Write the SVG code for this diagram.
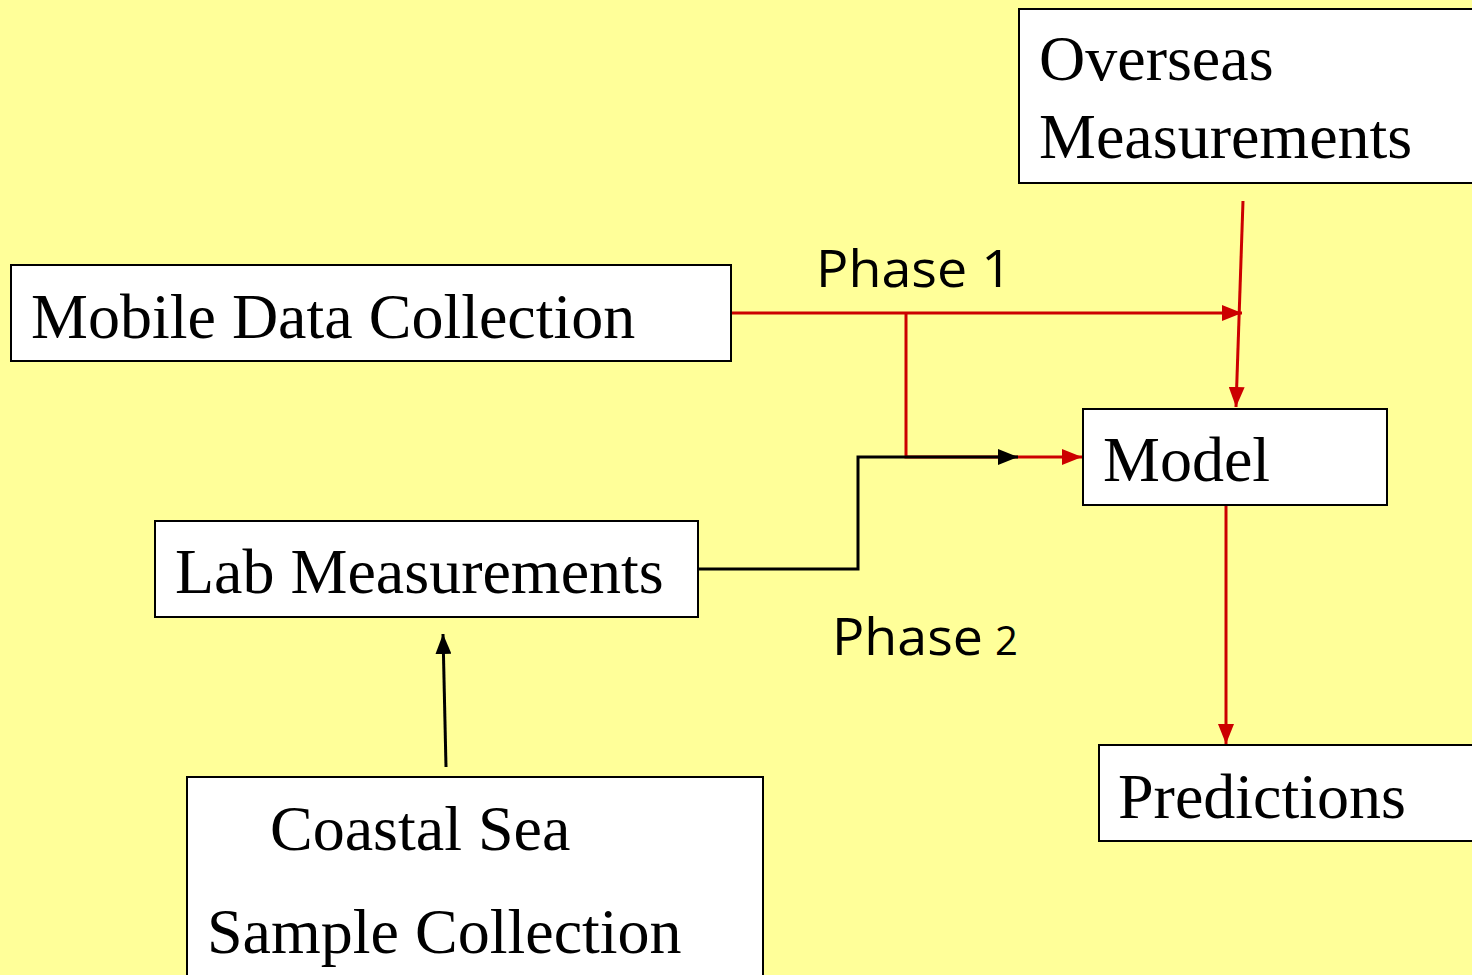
<svg xmlns="http://www.w3.org/2000/svg" width="1472" height="975" viewBox="0 0 1472 975">
<style>
.box{fill:#fff;stroke:#000;stroke-width:2}
.t{font-family:"Liberation Serif","Times New Roman",serif;font-size:64px;fill:#000}
.p{font-family:"Open Sans","Liberation Sans",sans-serif;font-size:52px;fill:#000}
.r{stroke:#CC0000;stroke-width:3;fill:none}
.k{stroke:#000;stroke-width:3;fill:none}
</style>
<defs>
<marker id="ar" markerUnits="userSpaceOnUse" markerWidth="22" markerHeight="16" refX="20" refY="8" orient="auto"><path d="M0,0 L20,8 L0,16 Z" fill="#CC0000"/></marker>
<marker id="ak" markerUnits="userSpaceOnUse" markerWidth="22" markerHeight="16" refX="20" refY="8" orient="auto"><path d="M0,0 L20,8 L0,16 Z" fill="#000"/></marker>
</defs>
<rect width="1472" height="975" fill="#FFFF99"/>
<g id="connectors">
<path class="r" d="M731,313 H1242" marker-end="url(#ar)"/>
<path class="r" d="M1243,201 L1236,407" marker-end="url(#ar)"/>
<path class="r" d="M906,313 V457 H1018"/>
<path class="k" d="M698,569 H858 V457 H1018" marker-end="url(#ak)"/>
<path class="r" d="M1018,457 H1082" marker-end="url(#ar)"/>
<path class="r" d="M1226,505 V744" marker-end="url(#ar)"/>
<path class="k" d="M446,767 L443,634" marker-end="url(#ak)"/>
</g>
<g id="overseas"><rect class="box" x="1019" y="9" width="470" height="174"/><text class="t" x="1039" y="80">Overseas</text><text class="t" x="1039" y="158">Measurements</text></g>
<g id="mobile"><rect class="box" x="11" y="265" width="720" height="96"/><text class="t" x="31" y="338">Mobile Data Collection</text></g>
<g id="model"><rect class="box" x="1083" y="409" width="304" height="96"/><text class="t" x="1103" y="481">Model</text></g>
<g id="lab"><rect class="box" x="155" y="521" width="543" height="96"/><text class="t" x="175" y="593">Lab Measurements</text></g>
<g id="coastal"><rect class="box" x="187" y="777" width="576" height="220"/><text class="t" x="270" y="850">Coastal Sea</text><text class="t" x="207" y="953">Sample Collection</text></g>
<g id="predictions"><rect class="box" x="1099" y="745" width="390" height="96"/><text class="t" x="1118" y="818">Predictions</text></g>
<g id="phase1"><text class="p" x="816" y="287" textLength="196" lengthAdjust="spacingAndGlyphs">Phase 1</text></g>
<g id="phase2"><text class="p" x="832" y="655" textLength="151" lengthAdjust="spacingAndGlyphs">Phase</text><text class="p" x="995" y="655" style="font-size:40px">2</text></g>
</svg>
